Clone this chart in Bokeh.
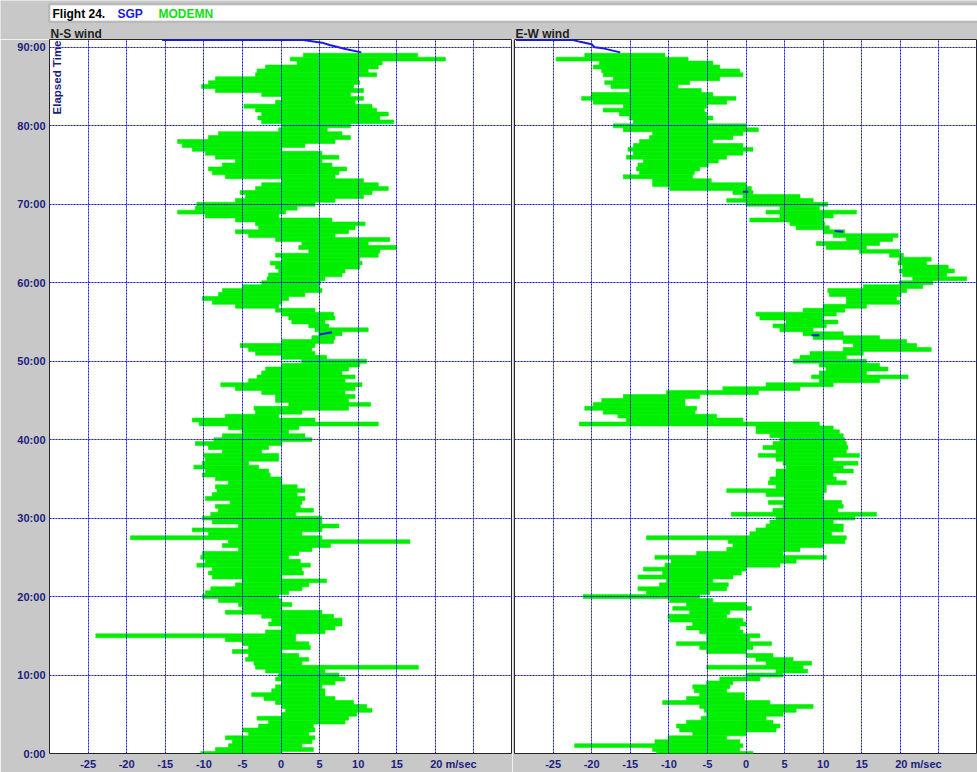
import math

from bokeh.embed import file_html
from bokeh.layouts import column, row
from bokeh.models import BoxAnnotation, FixedTicker, Grid, Label, Range1d
from bokeh.plotting import figure
from bokeh.resources import INLINE

# ---------------------------------------------------------------- data
# elapsed flight time (minutes), one sample row every half minute
elapsed = [
    0.0, 0.5, 1.0, 1.5, 2.0, 2.5, 3.0, 3.5, 4.0, 4.5,
    5.0, 5.5, 6.0, 6.5, 7.0, 7.5, 8.0, 8.5, 9.0, 9.5,
    10.0, 10.5, 11.0, 11.5, 12.0, 12.5, 13.0, 13.5, 14.0, 14.5,
    15.0, 15.5, 16.0, 16.5, 17.0, 17.5, 18.0, 18.5, 19.0, 19.5,
    20.0, 20.5, 21.0, 21.5, 22.0, 22.5, 23.0, 23.5, 24.0, 24.5,
    25.0, 25.5, 26.0, 26.5, 27.0, 27.5, 28.0, 28.5, 29.0, 29.5,
    30.0, 30.5, 31.0, 31.5, 32.0, 32.5, 33.0, 33.5, 34.0, 34.5,
    35.0, 35.5, 36.0, 36.5, 37.0, 37.5, 38.0, 38.5, 39.0, 39.5,
    40.0, 40.5, 41.0, 41.5, 42.0, 42.5, 43.0, 43.5, 44.0, 44.5,
    45.0, 45.5, 46.0, 46.5, 47.0, 47.5, 48.0, 48.5, 49.0, 49.5,
    50.0, 50.5, 51.0, 51.5, 52.0, 52.5, 53.0, 53.5, 54.0, 54.5,
    55.0, 55.5, 56.0, 56.5, 57.0, 57.5, 58.0, 58.5, 59.0, 59.5,
    60.0, 60.5, 61.0, 61.5, 62.0, 62.5, 63.0, 63.5, 64.0, 64.5,
    65.0, 65.5, 66.0, 66.5, 67.0, 67.5, 68.0, 68.5, 69.0, 69.5,
    70.0, 70.5, 71.0, 71.5, 72.0, 72.5, 73.0, 73.5, 74.0, 74.5,
    75.0, 75.5, 76.0, 76.5, 77.0, 77.5, 78.0, 78.5, 79.0, 79.5,
    80.0, 80.5, 81.0, 81.5, 82.0, 82.5, 83.0, 83.5, 84.0, 84.5,
    85.0, 85.5, 86.0, 86.5, 87.0, 87.5, 88.0, 88.5, 89.0,
]

# MODEMN N-S wind (m/s): lowest and highest value inside each row
ns_low = [
    -10.4, -8.5, -6.8, -6.3, -7.2, -4.2, -5.0, -2.9, -1.6, -3.1,
    0.1, 0.6, 0.1, -0.7, -2.2, -3.8, -1.2, -0.7, 0.1, -0.7,
    -0.3, -2.0, -3.3, -3.5, -4.6, -4.2, -6.3, -4.2, -5.0, -7.2,
    -24.0, -2.0, 0.1, -1.6, -1.2, -2.5, -7.2, -5.0, -5.5, -8.1,
    -10.2, -9.8, -9.1, -5.9, -5.0, -8.9, -9.4, -8.9, -10.9, -9.8,
    -10.4, -10.2, -5.5, -7.6, -6.8, -19.5, -9.4, -11.5, -5.5, -8.9,
    -10.2, -9.1, -8.1, -8.5, -6.6, -9.8, -8.9, -8.3, -8.5, -6.8,
    -8.5, -10.2, -9.8, -11.3, -10.2, -9.8, -10.0, -7.6, -9.4, -11.1,
    -8.7, -7.6, -5.0, -6.8, -10.6, -11.5, -7.2, -3.3, -3.5, 1.0,
    -0.7, -0.7, -2.5, -5.9, -7.8, -4.2, -3.1, -2.5, -2.0, 0.1,
    2.7, 0.1, -3.3, -4.2, -5.3, 0.1, 4.0, 4.9, 4.4, 3.6,
    1.4, 1.0, 0.1, -0.7, -5.9, -8.9, -10.2, -8.1, -7.6, -5.0,
    -2.5, -1.8, -1.6, -0.3, -0.7, -1.4, 0.1, -0.7, 3.6, 2.3,
    2.7, -0.7, -4.2, -5.9, -2.9, -3.3, -5.9, -9.8, -13.4, -11.1,
    -10.9, -5.9, -4.6, -5.3, -3.3, -2.5, 0.1, -7.2, -8.9, -9.4,
    -7.6, -5.9, -8.5, -9.8, -11.5, -12.8, -13.4, -9.4, -8.1, -0.3,
    0.1, -2.5, -3.0, -2.5, -3.3, -4.8, -0.7, 0.1, -2.5, -8.5,
    -10.3, -9.4, -8.5, -3.3, -3.1, -2.0, 2.1, 1.2, 2.9,
]
ns_high = [
    0.1, 4.2, 2.7, 4.0, 4.4, 3.6, 4.4, 4.2, 8.3, 8.75,
    9.8, 11.8, 11.1, 9.4, 7.0, 5.7, 5.7, 5.3, 7.0, 8.3,
    7.5, 5.7, 17.8, 2.7, 3.6, 2.3, 0.1, 3.8, 3.6, 1.9,
    1.9, 5.7, 7.0, 7.9, 7.9, 6.8, 5.3, 0.1, 1.4, 0.1,
    -0.3, 1.0, 2.7, 3.6, 5.9, 0.1, 2.9, 2.7, 3.8, 2.5,
    1.0, 2.3, 4.0, 6.4, 16.7, 5.3, 2.7, 5.3, 7.5, 5.3,
    5.3, 1.9, 4.2, 2.5, 2.7, 3.1, 2.1, 3.1, 2.1, 0.1,
    0.1, -1.4, -1.6, -2.9, -4.2, -0.3, -0.3, -2.5, -1.6, 0.1,
    4.0, 3.1, 1.0, 2.3, 12.6, 4.4, -0.3, 2.7, 8.75, 11.6,
    8.75, 9.6, 8.3, 9.6, 10.5, 8.3, 9.6, 7.9, 8.75, 10.2,
    11.1, 5.9, 4.4, 4.0, 4.4, 6.8, 7.0, 7.9, 11.3, 6.2,
    5.7, 7.0, 6.8, 4.4, -0.3, 0.1, 1.0, 3.1, 5.3, 4.9,
    5.1, 5.7, 7.9, 8.3, 10.2, 10.5, 10.2, 12.6, 12.8, 15.0,
    11.3, 14.1, 7.0, 8.75, 9.6, 10.9, 6.6, -0.3, 0.6, 2.1,
    4.4, 7.0, 10.7, 11.8, 13.9, 12.6, 10.7, 7.0, 7.5, 8.5,
    6.6, 5.3, 7.5, 5.3, 0.1, 3.1, 7.0, 9.0, 7.9, 6.0,
    9.0, 14.6, 12.8, 13.9, 12.4, 11.8, 9.6, 10.7, 9.0, 10.7,
    9.4, 10.2, 10.0, 12.4, 11.3, 12.6, 13.1, 21.3, 17.7,
]

# MODEMN E-W wind (m/s): lowest and highest value inside each row
ew_low = [
    -11.6, -12.1, -22.2, -11.8, -10.1, -6.9, -8.6, -9.0, -7.7, -5.8,
    -5.1, -5.4, -6.0, -10.8, -7.7, -6.0, -6.7, -6.9, -5.1, -3.4,
    0.0, 3.9, -5.1, 2.6, 1.3, 0.0, -5.1, -6.0, -9.0, -5.1,
    -5.1, -6.0, -7.7, -6.9, -9.9, -10.1, -7.3, -9.5, -7.7, -9.9,
    -21.1, -12.9, -14.0, -11.2, -10.3, -14.0, -10.8, -13.3, -10.5, -9.7,
    -11.8, -6.4, -2.5, -1.7, -2.3, -12.9, 0.5, 1.3, 2.6, 3.1,
    3.9, -1.9, 3.5, 4.8, 2.9, 5.0, 2.6, -2.5, 3.9, 2.9,
    3.1, 3.9, 3.9, 5.2, 4.8, 3.9, 1.6, 3.9, 2.2, 3.5,
    4.4, 3.1, 1.3, 1.3, -21.6, -15.5, -16.6, -18.5, -20.9, -19.8,
    -18.7, -15.9, -10.3, -3.0, 2.6, 9.5, 8.5, 9.5, 10.4, 9.5,
    6.1, 7.0, 8.3, 12.6, 13.9, 12.6, 8.7, 7.4, 4.4, 3.5,
    5.2, 1.8, 1.3, 7.4, 10.0, 13.0, 13.0, 10.8, 10.6, 15.2,
    19.9, 21.6, 20.3, 19.9, 20.3, 19.7, 19.9, 18.6, 14.7, 10.4,
    9.1, 13.0, 11.3, 10.0, 6.5, 5.7, 0.5, 4.4, 2.6, 4.4,
    0.0, -2.5, -0.4, -1.7, -9.9, -12.1, -12.1, -15.9, -13.8, -14.2,
    -14.0, -13.3, -15.5, -14.6, -15.3, -14.6, -13.8, -12.5, -12.1, -15.9,
    -17.2, -14.6, -15.1, -16.4, -18.5, -15.9, -19.8, -21.3, -20.0, -15.1,
    -17.5, -18.3, -17.2, -18.5, -18.7, -19.8, -19.0, -24.6, -20.9,
]
ew_high = [
    0.9, -0.8, -0.4, -0.8, -2.5, 0.0, 3.9, 4.4, 3.5, 2.6,
    4.8, 6.5, 8.7, 3.1, -0.2, -0.2, -2.5, -2.1, -1.7, 1.8,
    4.8, 8.0, 7.4, 8.5, 6.1, 3.5, 0.0, 0.9, 3.3, 0.5,
    1.8, -0.4, -0.8, 0.0, -0.4, -2.5, -2.1, 0.7, 0.0, -4.3,
    -6.0, -4.7, -2.5, -2.3, -4.3, -1.7, -0.6, 0.0, 4.4, 6.5,
    10.4, 4.8, 7.0, 10.0, 12.8, 13.0, 11.1, 12.6, 12.6, 11.3,
    14.1, 16.9, 11.9, 12.6, 12.4, 10.0, 10.0, 10.4, 10.4, 13.0,
    11.7, 11.3, 13.9, 12.6, 14.5, 11.3, 14.7, 13.0, 13.2, 13.0,
    12.8, 12.6, 12.1, 11.3, 9.5, -0.4, -3.8, -6.6, -6.4, -7.9,
    -7.9, -6.0, 1.6, 7.0, 11.3, 17.3, 21.0, 15.6, 18.4, 17.3,
    15.6, 13.0, 15.2, 24.0, 22.1, 20.8, 17.3, 12.6, 8.7, 10.4,
    11.9, 10.0, 11.7, 12.8, 15.6, 19.9, 19.5, 20.1, 20.8, 22.9,
    24.2, 28.6, 26.0, 27.0, 26.2, 23.4, 24.0, 20.4, 19.9, 15.6,
    17.3, 19.0, 19.7, 12.8, 10.8, 10.2, 10.0, 11.3, 14.3, 9.5,
    10.6, 8.7, 7.0, 0.9, 0.7, 0.0, -4.5, -6.9, -6.7, -6.0,
    -4.9, -3.6, -2.5, -0.4, 0.9, -0.4, -4.3, -1.7, -0.4, 1.6,
    0.0, -5.1, -4.3, -5.1, -5.4, -5.1, -2.5, -1.3, -4.3, -5.8,
    -8.8, -7.3, -3.4, -0.4, -0.8, -3.4, -4.3, -7.5, -10.5,
]

# SGP sonde trace (m/s against elapsed minutes)
sgp_ns_wind = [-15.4, 2.9, 5.3, 6.3, 8.5, 10.4]
sgp_ns_time = [90.93, 90.93, 90.6, 90.3, 89.75, 89.36]
sgp_ew_wind = [-29.8, -22.4, -21.5, -20.0, -19.6, -18.5, -16.3]
sgp_ew_time = [90.93, 90.93, 90.7, 90.4, 90.0, 89.87, 89.36]

# short isolated SGP pieces further down the flight
sgp_ns_bits_wind = [[5.0, 6.6]]
sgp_ns_bits_time = [[53.4, 53.7]]
sgp_ew_bits_wind = [[-0.4, 0.3], [11.5, 12.6], [8.5, 9.5]]
sgp_ew_bits_time = [[71.6, 71.6], [66.6, 66.5], [53.3, 53.3]]

time_ticks = [0, 10, 20, 30, 40, 50, 60, 70, 80, 90]
time_labels = ["0:00", "10:00", "20:00", "30:00", "40:00",
               "50:00", "60:00", "70:00", "80:00", "90:00"]
wind_grid = [-25, -20, -15, -10, -5, 0, 5, 10, 15, 20, 25]
wind_ticks = [-25, -20, -15, -10, -5, 0, 5, 10, 15, 20]
wind_labels = ["-25", "-20", "-15", "-10", "-5", "0", "5", "10", "15",
               "20 m/sec"]

# ---------------------------------------------------------------- style
GRAY = "#c8c8c8"
NAVY = "#1c1c7c"
GREEN = "#00ee00"
BLUE = "#1818e8"
GRID = "#2020e0"
FONT = "Liberation Sans"

PANEL_H = 733
BOTTOM = 19
# the last tick label carries the unit, so it is anchored further right
# to keep its number centred under its own grid line
UNIT_LABEL_SHIFT = 2.35


def style_axis(ax, ticks, labels):
    ax.ticker = FixedTicker(ticks=ticks)
    ax.major_label_overrides = dict(zip(ticks, labels))
    ax.major_label_text_font = FONT
    ax.major_label_text_font_style = "bold"
    ax.major_label_text_font_size = "11px"
    ax.major_label_text_color = NAVY
    ax.major_label_standoff = 4
    ax.major_tick_out = 0
    ax.major_tick_in = 0
    ax.minor_tick_out = 0
    ax.minor_tick_in = 0
    ax.major_tick_line_color = None
    ax.minor_tick_line_color = None
    ax.axis_line_color = None


def wind_panel(low, high, sgp_wind, sgp_time, bits_wind, bits_time,
               width, left_border, with_time_axis):
    p = figure(
        width=width, height=PANEL_H,
        x_range=Range1d(-30, 30), y_range=Range1d(0, 91),
        toolbar_location=None, output_backend="svg",
        y_axis_location="left" if with_time_axis else None,
        min_border_left=left_border, min_border_right=0,
        min_border_top=0, min_border_bottom=BOTTOM,
        background_fill_color="white", border_fill_color=GRAY,
        outline_line_color="#262626", outline_line_width=1,
    )

    # soft halo under the dotted grid lines
    for dim, ticks in ((0, wind_grid), (1, time_ticks)):
        halo = Grid(dimension=dim, ticker=FixedTicker(ticks=ticks),
                    grid_line_color="#b4b4ff", grid_line_width=3,
                    grid_line_alpha=0.45)
        p.add_layout(halo)

    p.hbar(y=elapsed, left=low, right=high, height=0.5,
           fill_color=GREEN, line_color=GREEN, line_width=0.6)
    p.line(sgp_wind, sgp_time, line_color=BLUE, line_width=2)
    p.multi_line(bits_wind, bits_time, line_color=BLUE, line_width=2)

    p.xgrid.ticker = FixedTicker(ticks=wind_grid)
    p.ygrid.ticker = FixedTicker(ticks=time_ticks)
    for g in (p.xgrid, p.ygrid):
        g.grid_line_color = GRID
        g.grid_line_dash = "2 1"
        g.grid_line_width = 1
        g.level = "overlay"

    label_pos = wind_ticks[:-1] + [wind_ticks[-1] + UNIT_LABEL_SHIFT]
    style_axis(p.xaxis[0], label_pos, wind_labels)

    if with_time_axis:
        style_axis(p.yaxis[0], time_ticks, time_labels)
        p.add_layout(Label(x=-30, y=91, angle=math.pi / 2,
                           text="Elapsed Time", text_align="right",
                           text_baseline="top", x_offset=1, y_offset=-1,
                           text_font=FONT, text_font_style="bold",
                           text_font_size="11.5px", text_color=NAVY,
                           background_fill_color="white"))
    return p


ns = wind_panel(ns_low, ns_high, sgp_ns_wind, sgp_ns_time,
                sgp_ns_bits_wind, sgp_ns_bits_time,
                width=512, left_border=49, with_time_axis=True)
ew = wind_panel(ew_low, ew_high, sgp_ew_wind, sgp_ew_time,
                sgp_ew_bits_wind, sgp_ew_bits_time,
                width=465, left_border=2, with_time_axis=False)

# ---------------------------------------------------------------- header strip
head = figure(
    width=977, height=39,
    x_range=Range1d(0, 977), y_range=Range1d(39, 0),
    toolbar_location=None, output_backend="svg",
    x_axis_location=None, y_axis_location=None,
    min_border=0, background_fill_color=GRAY, border_fill_color=GRAY,
    outline_line_color=None,
)
head.xgrid.visible = False
head.ygrid.visible = False
head.add_layout(BoxAnnotation(left=49, right=985, top=4, bottom=21,
                              fill_color="white", fill_alpha=1,
                              line_color="#5c5c5c", line_width=2))


def head_text(x, y, text, color):
    head.add_layout(Label(x=x, y=y, text=text, text_baseline="middle",
                          text_font=FONT, text_font_style="bold",
                          text_font_size="12px", text_color=color))


head_text(52, 13, "Flight 24.", "black")
head_text(117, 13, "SGP", BLUE)
head_text(158, 13, "MODEMN", "#10e010")
head_text(50, 33, "N-S wind", "#1e1e1e")
head_text(515, 33, "E-W wind", "#1e1e1e")

page = column(head, row(ns, ew, spacing=0), spacing=0)

with open("out.html", "w") as f:
    f.write(file_html(page, INLINE, title="Flight 24 wind profiles"))
